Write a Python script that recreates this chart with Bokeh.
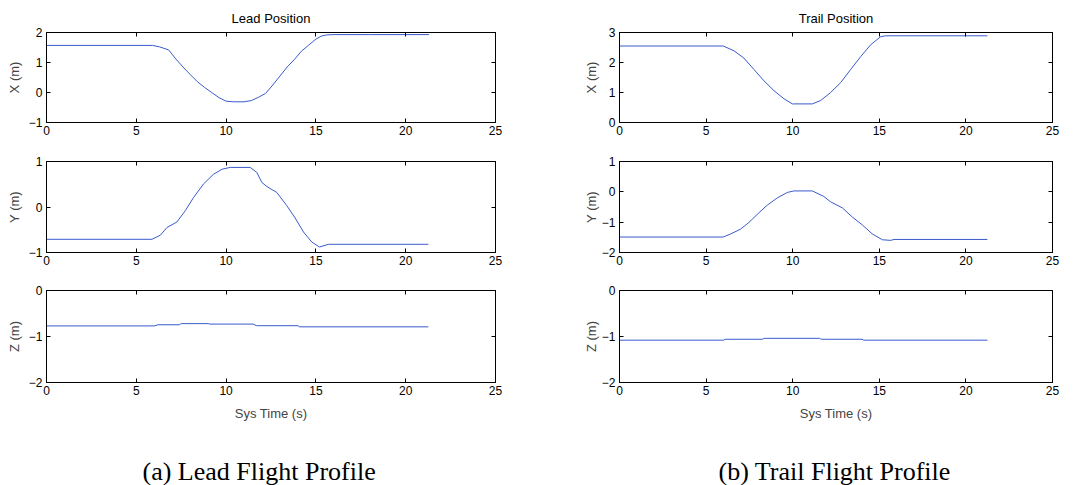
from bokeh.plotting import figure
from bokeh.models import Range1d, LinearAxis, FixedTicker, Title
from bokeh.layouts import column, row
from bokeh.embed import file_html
from bokeh.resources import INLINE

# ---------------- data ----------------
x_ticks = [0, 5, 10, 15, 20, 25]

lead_x_t = [0, 5.9, 6.3, 6.8, 7.2, 7.6, 8.0, 8.4, 8.8, 9.2, 9.6, 10.0, 10.4, 11.0, 11.4,
            11.8, 12.2, 12.6, 13.0, 13.4, 13.8, 14.2, 14.6, 15.0, 15.3, 15.6, 16.0, 18.0, 21.3]
lead_x_v = [1.57, 1.57, 1.52, 1.42, 1.12, 0.85, 0.60, 0.36, 0.17, 0.0, -0.17, -0.29, -0.31,
            -0.31, -0.27, -0.16, -0.03, 0.25, 0.55, 0.85, 1.10, 1.38, 1.58, 1.78, 1.88, 1.92,
            1.93, 1.93, 1.93]

lead_y_t = [0, 5.87, 6.34, 6.71, 7.26, 7.73, 8.19, 8.75, 9.30, 9.77, 10.23, 11.34, 11.71,
            11.99, 12.27, 12.82, 13.38, 13.84, 14.31, 14.77, 15.20, 15.70, 21.26]
lead_y_v = [-0.71, -0.71, -0.62, -0.45, -0.33, -0.08, 0.21, 0.51, 0.72, 0.83, 0.87, 0.87,
            0.76, 0.54, 0.45, 0.32, 0.03, -0.24, -0.55, -0.77, -0.88, -0.82, -0.82]

lead_z_t = [0, 6.0, 6.2, 7.4, 7.5, 9.0, 9.1, 11.5, 11.7, 14.0, 14.1, 21.26]
lead_z_v = [-0.77, -0.77, -0.745, -0.745, -0.72, -0.72, -0.73, -0.73, -0.765, -0.765,
            -0.79, -0.79]

trail_x_t = [0, 5.99, 6.61, 7.18, 7.76, 8.34, 8.92, 9.50, 9.98, 11.13, 11.61, 12.19, 12.77,
             13.35, 13.93, 14.50, 15.08, 15.37, 21.24]
trail_x_v = [2.55, 2.55, 2.39, 2.15, 1.77, 1.39, 1.06, 0.79, 0.62, 0.62, 0.73, 1.0, 1.33,
             1.77, 2.20, 2.59, 2.86, 2.89, 2.89]

trail_y_t = [0, 5.99, 6.41, 6.99, 7.47, 8.05, 8.53, 9.11, 9.69, 10.07, 11.13, 11.79, 12.19,
             12.87, 13.44, 14.02, 14.60, 15.18, 15.66, 15.85, 21.24]
trail_y_v = [-1.49, -1.49, -1.39, -1.23, -1.01, -0.69, -0.44, -0.20, -0.02, 0.03, 0.03,
             -0.15, -0.33, -0.53, -0.83, -1.09, -1.39, -1.58, -1.60, -1.57, -1.57]

trail_z_t = [0, 6.0, 6.1, 8.25, 8.35, 11.55, 11.65, 14.0, 14.1, 21.24]
trail_z_v = [-1.08, -1.08, -1.06, -1.06, -1.04, -1.04, -1.06, -1.06, -1.08, -1.08]

titles = ["Lead Position", "Trail Position"]
captions = ["(a) Lead Flight Profile", "(b) Trail Flight Profile"]
y_labels = ["X (m)", "Y (m)", "Z (m)"]
x_label = "Sys Time (s)"

LINE = "#3a5acd"
FONT = "Liberation Sans"


def style_axis(ax, labels=True):
    ax.major_tick_in = 4
    ax.major_tick_out = 0
    ax.minor_tick_line_color = None
    ax.axis_line_color = "black"
    ax.major_tick_line_color = "black"
    ax.major_label_text_font = FONT
    if labels:
        ax.major_label_text_font_size = "12px"
        ax.major_label_text_color = "black"
    else:
        ax.major_label_text_font_size = "1px"
        ax.major_label_text_color = None
        ax.major_label_standoff = 0


def make_fig(t, v, yr, yticks, ylabel, fh, mbl, mbr, mbt, mbb, fw,
             title=None, xlabel=None, caption=None, cap_off=0, lab_standoff=4):
    p = figure(frame_width=fw, frame_height=fh, x_range=Range1d(0, 25),
               y_range=Range1d(yr[0], yr[1]), output_backend="svg",
               toolbar_location=None, min_border_left=mbl, min_border_right=mbr,
               min_border_top=mbt, min_border_bottom=mbb, title=title)
    p.xgrid.grid_line_color = None
    p.ygrid.grid_line_color = None
    p.outline_line_color = "black"
    p.outline_line_alpha = 1
    p.background_fill_color = "white"
    p.border_fill_color = "white"
    if title is not None:
        p.title.align = "center"
        p.title.text_font = FONT
        p.title.text_font_size = "13px"
        p.title.text_font_style = "normal"
        p.title.text_color = "black"
        p.title.standoff = 13

    p.xaxis.ticker = FixedTicker(ticks=x_ticks)
    p.yaxis.ticker = FixedTicker(ticks=yticks)
    style_axis(p.xaxis[0])
    style_axis(p.yaxis[0])
    p.xaxis.major_label_standoff = 3
    p.yaxis.major_label_standoff = 4
    p.yaxis.axis_label = ylabel
    p.yaxis.axis_label_text_font = FONT
    p.yaxis.axis_label_text_font_size = "13px"
    p.yaxis.axis_label_text_font_style = "normal"
    p.yaxis.axis_label_standoff = lab_standoff
    if xlabel:
        p.xaxis.axis_label = xlabel
        p.xaxis.axis_label_text_font = FONT
        p.xaxis.axis_label_text_font_size = "13px"
        p.xaxis.axis_label_text_font_style = "normal"
        p.xaxis.axis_label_standoff = 8

    top = LinearAxis(ticker=FixedTicker(ticks=x_ticks))
    style_axis(top, labels=False)
    p.add_layout(top, "above")
    right = LinearAxis(ticker=FixedTicker(ticks=yticks))
    style_axis(right, labels=False)
    p.add_layout(right, "right")

    if caption:
        p.add_layout(Title(text=caption, align="left", offset=cap_off,
                           text_font="Liberation Serif", text_font_size="26px",
                           text_font_style="normal", text_color="black",
                           standoff=62), "below")

    p.line(t, v, line_color=LINE, line_width=1)
    return p


FW_L, MBL_L, MBR_L = 449, 46, 40
FW_R, MBL_R, MBR_R = 433, 84, 14
FH1, T1, B1 = 90, 32, 19
FH2, T2, B2 = 91, 20, 19
FH3, T3, B3 = 92, 19, 40

l1 = make_fig(lead_x_t, lead_x_v, (-1, 2), [-1, 0, 1, 2], y_labels[0], FH1, MBL_L, MBR_L,
              T1, B1, FW_L, title=titles[0])
l2 = make_fig(lead_y_t, lead_y_v, (-1, 1), [-1, 0, 1], y_labels[1], FH2, MBL_L, MBR_L,
              T2, B2, FW_L)
l3 = make_fig(lead_z_t, lead_z_v, (-2, 0), [-2, -1, 0], y_labels[2], FH3, MBL_L, MBR_L,
              T3, B3, FW_L, xlabel=x_label, caption=captions[0], cap_off=96)

r1 = make_fig(trail_x_t, trail_x_v, (0, 3), [0, 1, 2, 3], y_labels[0], FH1, MBL_R, MBR_R,
              T1, B1, FW_R, title=titles[1], lab_standoff=7)
r2 = make_fig(trail_y_t, trail_y_v, (-2, 1), [-2, -1, 0, 1], y_labels[1], FH2, MBL_R, MBR_R,
              T2, B2, FW_R, lab_standoff=0)
r3 = make_fig(trail_z_t, trail_z_v, (-2, 0), [-2, -1, 0], y_labels[2], FH3, MBL_R, MBR_R,
              T3, B3, FW_R, xlabel=x_label, caption=captions[1], cap_off=99, lab_standoff=0)

layout = column(row(l1, r1), row(l2, r2), row(l3, r3))

open("out.html", "w").write(file_html(layout, INLINE))
